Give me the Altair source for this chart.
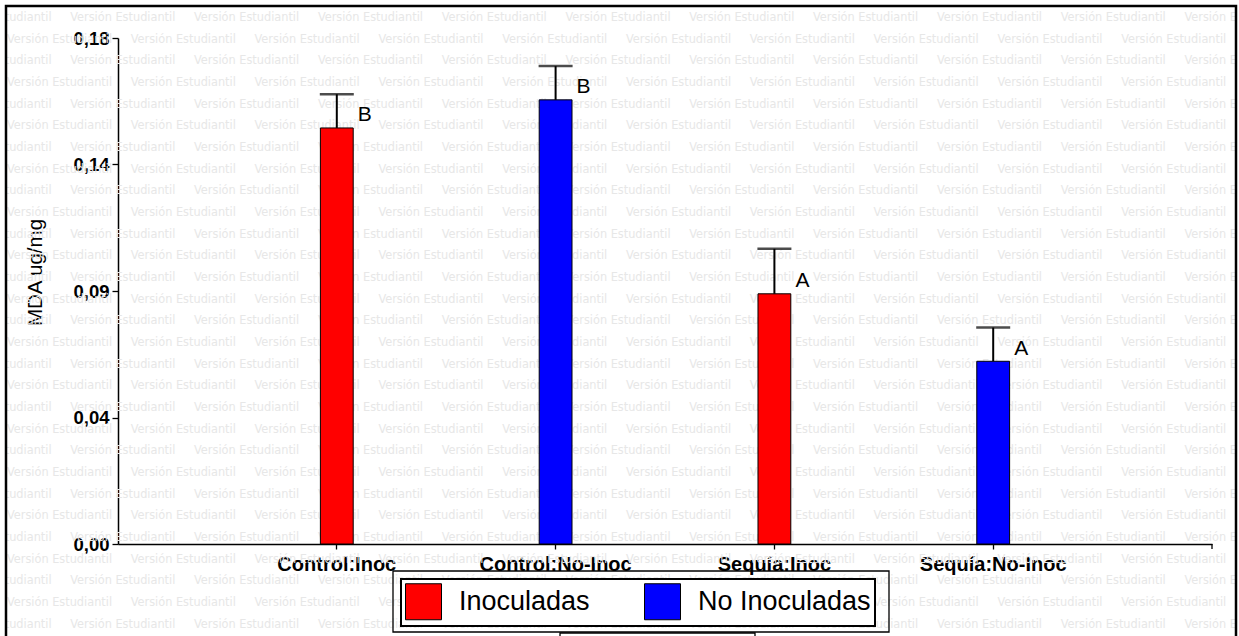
import altair as alt
import pandas as pd

# ---- data ----
categorias = ["Control:Inoc", "Control:No-Inoc", "Sequía:Inoc", "Sequía:No-Inoc"]
grupos = ["Inoculadas", "No Inoculadas", "Inoculadas", "No Inoculadas"]
mda_media = [0.148, 0.158, 0.089, 0.065]
mda_sup = [0.160, 0.170, 0.105, 0.077]
letras = ["B", "B", "A", "A"]

leyenda = ["Inoculadas", "No Inoculadas"]
colores = ["#ff0000", "#0000ff"]

y_ticks = [0.0, 0.045, 0.09, 0.135, 0.18]

df = pd.DataFrame({
    "cat": categorias,
    "grupo": grupos,
    "media": mda_media,
    "sup": mda_sup,
    "letra": letras,
})

# ---- layout (pixels) ----
W, H = 1094, 506
PAD = {"left": 118, "top": 38, "right": 1239 - 118 - 1094, "bottom": 636 - 38 - 506}
FONT = "Liberation Sans"

# background "Versión Estudiantil" tiling
marca = "Versión Estudiantil"
fila_paso = 21.67
col_paso = 123.8
filas = []
for k in range(30):
    y = 17 + fila_paso * k - PAD["top"]
    x0 = (-53.5 if k % 2 == 0 else 7.0) - PAD["left"]
    for j in range(12):
        filas.append({"px": x0 + col_paso * j, "py": y, "t": marca})
wm = pd.DataFrame(filas)

uno = alt.Data(values=[{"a": 1}])

watermark = alt.Chart(wm).mark_text(
    font="DejaVu Sans Condensed", fontSize=12.6, color="#e7e7e7",
    align="left", baseline="middle",
).encode(
    x=alt.X("px:Q", scale=None, axis=None),
    y=alt.Y("py:Q", scale=None, axis=None),
    text="t:N",
)

def caja(x, x2, y, y2, fill=None, stroke=None, sw=1.0):
    kw = {}
    if fill is not None:
        kw["fill"] = fill
    else:
        kw["fillOpacity"] = 0
    if stroke is not None:
        kw["stroke"] = stroke
        kw["strokeWidth"] = sw
    return alt.Chart(uno).mark_rect(**kw).encode(
        x=alt.value(x), x2=alt.value(x2), y=alt.value(y), y2=alt.value(y2)
    )

blanco_izq = caja(-130, -113, -60, 620, fill="white")
blanco_der = caja(1119, 1140, -60, 620, fill="white")
marco = caja(-112, 1118, -32, 620, stroke="black", sw=2.5)
caja_ext = caja(275, 771, 533, 594, fill=None, stroke="black", sw=1.3)
caja_inf = caja(442, 637, 595, 640, fill="white", stroke="black", sw=1.3)

x_enc = alt.X(
    "cat:N",
    sort=categorias,
    scale=alt.Scale(paddingInner=0.85, paddingOuter=0.925),
    axis=alt.Axis(
        title=None, labelAngle=0, labelFont=FONT, labelFontWeight="bold",
        labelFontSize=20, labelColor="black", labelPadding=5, tickSize=5,
        tickColor="black", tickWidth=1.3, domainColor="black", domainWidth=1.5,
        bandPosition=0.5, grid=False,
    ),
)
y_scale = alt.Scale(domain=[0, 0.18], nice=False, zero=True)

barras = alt.Chart(df).mark_bar(stroke="black", strokeWidth=1).encode(
    x=x_enc,
    y=alt.Y(
        "media:Q",
        scale=y_scale,
        axis=alt.Axis(
            title="MDA ug/mg", values=y_ticks,
            labelExpr="replace(format(datum.value, '.2f'), '.', ',')",
            labelFont=FONT, labelFontWeight="bold", labelFontSize=18.5,
            labelColor="black", labelPadding=3, tickSize=6, tickColor="black",
            tickWidth=1.3, domainColor="black", domainWidth=1.5, grid=False,
            titleFont=FONT, titleFontSize=20.5, titleFontWeight="normal",
            titleColor="black", titleAngle=270, titleX=-83, titleY=234,
            titleAlign="center", titleBaseline="middle",
        ),
    ),
    color=alt.Color(
        "grupo:N",
        scale=alt.Scale(domain=leyenda, range=colores),
        legend=alt.Legend(
            title=None, orient="none", legendX=283, legendY=541,
            direction="horizontal", symbolType="square", symbolSize=1296,
            symbolStrokeColor="black", symbolStrokeWidth=1, symbolOpacity=1,
            labelFont=FONT, labelFontSize=27, labelColor="black",
            labelOffset=17, labelLimit=400, columnPadding=52, padding=4,
            strokeColor="black", fillColor="white",
        ),
    ),
)

error = alt.Chart(df).mark_rule(color="black", strokeWidth=2).encode(
    x=alt.X("cat:N", sort=categorias),
    y=alt.Y("media:Q", scale=y_scale),
    y2="sup:Q",
)

tapa = alt.Chart(df).mark_tick(color="black", thickness=2.5, size=34, orient="horizontal").encode(
    x=alt.X("cat:N", sort=categorias),
    y=alt.Y("sup:Q", scale=y_scale),
)

texto = alt.Chart(df).mark_text(
    font=FONT, fontSize=21, color="black", dx=28, dy=-6.5,
    align="center", baseline="alphabetic",
).encode(
    x=alt.X("cat:N", sort=categorias),
    y=alt.Y("media:Q", scale=y_scale),
    text="letra:N",
)

fin_eje = alt.Chart(uno).mark_rule(color="black", strokeWidth=1.3).encode(
    x=alt.value(W), y=alt.value(H), y2=alt.value(H + 5)
)

chart = alt.layer(
    watermark, blanco_izq, blanco_der, marco, caja_ext, caja_inf,
    barras, error, tapa, texto, fin_eje,
).properties(
    width=W, height=H,
    autosize=alt.AutoSizeParams(type="none"),
    padding=PAD,
    background="white",
).configure_view(stroke=None).configure_legend(strokeWidth=2)

chart.save("out.html", embed_options={"renderer": "svg", "actions": False})
